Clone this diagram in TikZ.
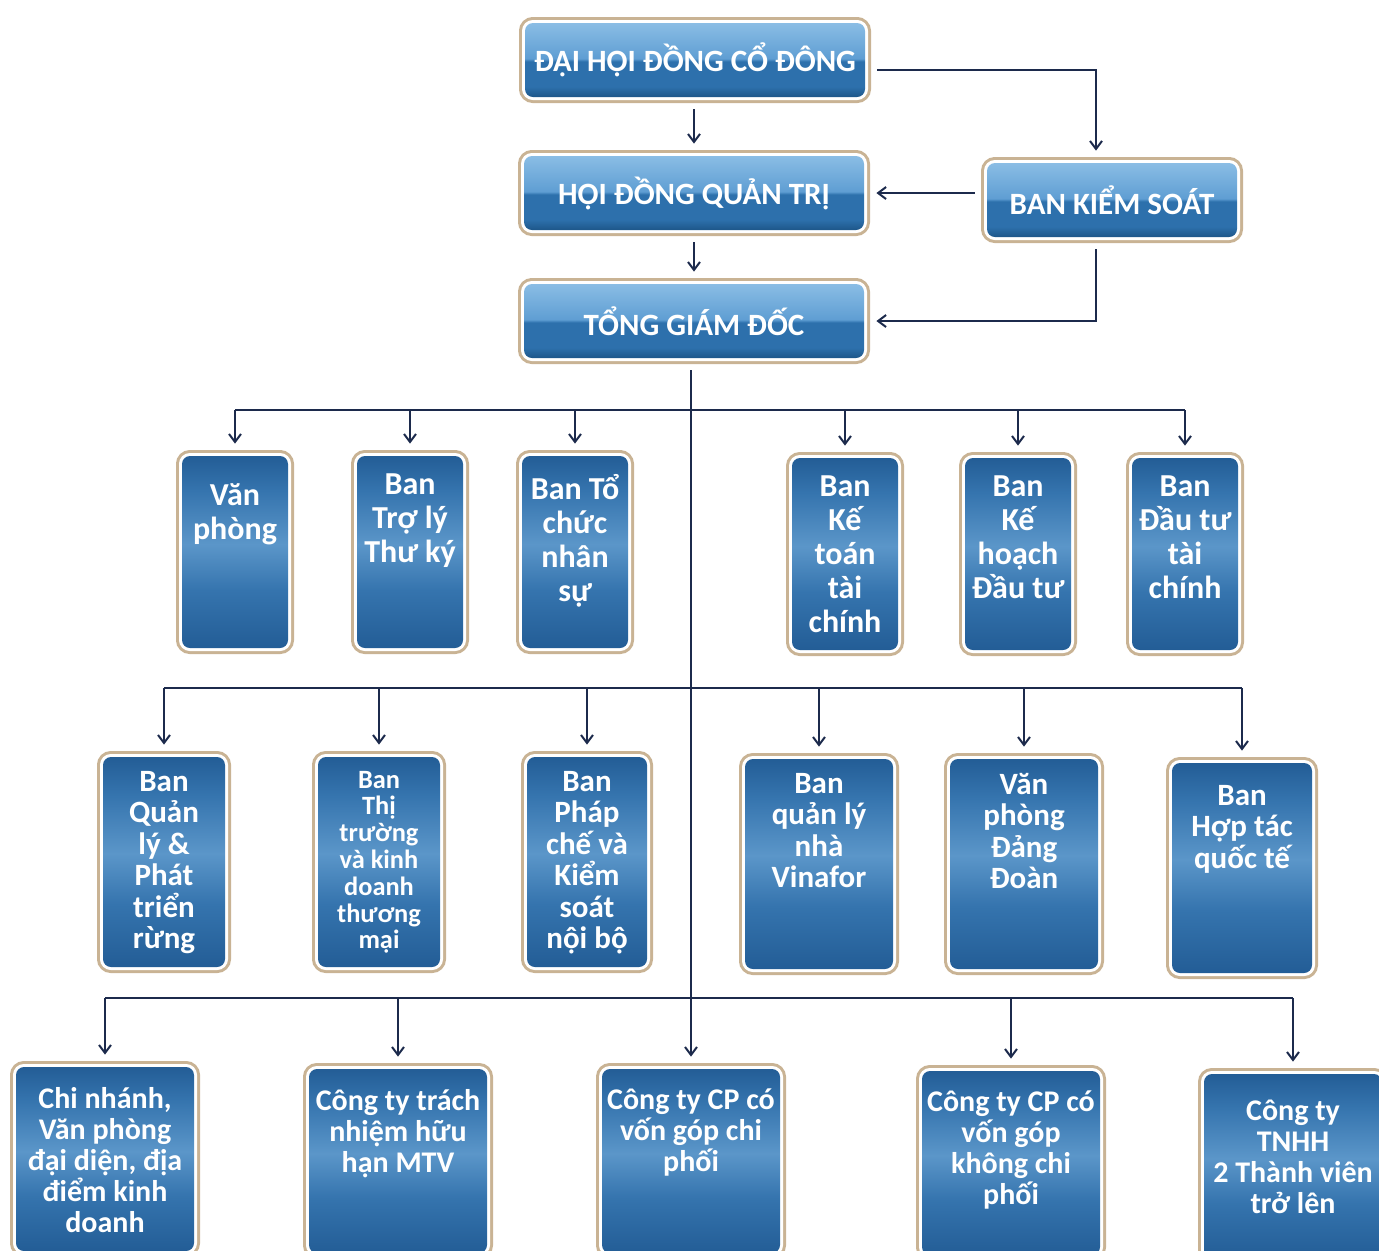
\documentclass[tikz,border=0pt]{standalone}
\usepackage{fontspec}
\setmainfont{Carlito}
\usetikzlibrary{arrows.meta}

\definecolor{hdark}{HTML}{1D5689}
\definecolor{hmid}{HTML}{2D70AC}
\definecolor{hlight}{HTML}{5F9ED3}
\definecolor{hlighter}{HTML}{8ABDE5}
\definecolor{pdark}{HTML}{235D96}
\definecolor{pmid}{HTML}{3574AE}
\definecolor{plight}{HTML}{5B96C9}
\definecolor{framecol}{HTML}{C9B394}
\definecolor{linecol}{HTML}{1C2A4C}

\pgfdeclareverticalshading{headshade}{100bp}{color(0bp)=(hdark); color(25bp)=(hdark); color(32bp)=(hmid); color(49bp)=(hmid); color(51bp)=(hlight); color(75bp)=(hlighter); color(100bp)=(hlighter)}
\pgfdeclareverticalshading{panelshade}{100bp}{color(0bp)=(pdark); color(25bp)=(pdark); color(40bp)=(pmid); color(52bp)=(plight); color(66bp)=(pmid); color(75bp)=(pdark); color(100bp)=(pdark)}

\tikzset{
  box/.style={shading=panelshade, shading angle=0, rounded corners=4pt, inner sep=0pt,
    preaction={draw=framecol, line width=6pt}, preaction={draw=white, line width=3pt}},
  head/.style={box, shading=headshade, minimum width=170pt, minimum height=37pt,
    text=white, font=\fontsize{15.5}{18}\selectfont\bfseries},
  rowa/.style={box, minimum width=53pt, minimum height=96pt},
  rowb/.style={box, minimum width=61pt, minimum height=105pt},
  rowc/.style={box, minimum width=89pt, minimum height=92pt},
  ptext/.style={anchor=north, yshift=-9pt, align=center, text=white, inner sep=0pt,
    font=\fontsize{16}{17}\selectfont\bfseries},
  ptextb/.style={ptext, yshift=2pt, font=\fontsize{15.5}{15.75}\selectfont\bfseries},
  ptextc/.style={ptext, yshift=-1pt, font=\fontsize{15}{15.5}\selectfont\bfseries},
  arr/.style={draw=linecol, line width=1pt, -{Straight Barb[length=4pt,width=6pt]},
    shorten <=6pt, shorten >=6pt},
  bus/.style={draw=linecol, line width=1pt}
}

\begin{document}
\begin{tikzpicture}[x=0.5pt, y=-0.5pt]
    \useasboundingbox (0,0) rectangle (1379,1250);

    % lãnh đạo
    \node[head] (dh) at (695,60) {ĐẠI HỘI ĐỒNG CỔ ĐÔNG};
    \node[head] (hd) at (694,193) {HỘI ĐỒNG QUẢN TRỊ};
    \node[head] (tg) at (694,321) {TỔNG GIÁM ĐỐC};
    \node[head, minimum width=125pt] (ks) at (1112,200) {BAN KIỂM SOÁT};

    \draw[arr] (hd.north |- dh.south) -- (hd.north);
    \draw[arr] (hd.south) -- (tg.north);
    \draw[arr] ([yshift=-5pt]dh.east) -| ([xshift=-8pt]ks.north);
    \draw[arr] (hd.east -| ks.west) -- (hd.east);
    \draw[arr] ([xshift=-8pt]ks.south) |- (tg.east);

    % hàng 1
    \node[rowa, label={[ptext, yshift=-5pt]north:{Văn\\phòng}}] (vp) at (235,552) {};
    \node[rowa, label={[ptext]north:{Ban\\Trợ lý\\Thư ký}}] (tl) at (410,552) {};
    \node[rowa, label={[ptext]north:{Ban Tổ\\chức\\nhân\\sự}}] (tc) at (575,552) {};
    \node[rowa, label={[ptext]north:{Ban\\Kế\\toán\\tài\\chính}}] (kt) at (845,554) {};
    \node[rowa, label={[ptext]north:{Ban\\Kế\\hoạch\\Đầu tư}}] (kh) at (1018,554) {};
    \node[rowa, label={[ptext]north:{Ban\\Đầu tư\\tài\\chính}}] (dt) at (1185,554) {};

    % hàng 2
    \node[rowb, label={[ptextb]north:{Ban\\Quản\\lý \&\\Phát\\triển\\rừng}}] (ql) at (164,862) {};
    \node[rowb, label={[ptextb, font=\fontsize{13.2}{13.4}\selectfont\bfseries]north:{Ban\\Thị\\trường\\và kinh\\doanh\\thương\\mại}}] (tt) at (379,862) {};
    \node[rowb, minimum width=60pt, label={[ptextb]north:{Ban\\Pháp\\chế và\\Kiểm\\soát\\nội bộ}}] (pc) at (587,862) {};
    \node[rowb, minimum width=74pt, label={[ptextb]north:{Ban\\quản lý\\nhà\\Vinafor}}] (vf) at (819,864) {};
    \node[rowb, minimum width=74pt, label={[ptextb]north:{Văn\\phòng\\Đảng\\Đoàn}}] (dd) at (1024,864) {};
    \node[rowb, minimum width=70pt, label={[ptextb, yshift=-4pt]north:{Ban\\Hợp tác\\quốc tế}}] (ht) at (1242,868) {};

    % hàng 3
    \node[rowc, label={[ptextc]north:{Chi nhánh,\\Văn phòng\\đại diện, địa\\điểm kinh\\doanh}}] (cn) at (105,1159) {};
    \node[rowc, label={[ptextc]north:{Công ty trách\\nhiệm hữu\\hạn MTV}}] (mtv) at (398,1161) {};
    \node[rowc, label={[ptextc]north:{Công ty CP có\\vốn góp chi\\phối}}] (cp) at (691,1161) {};
    \node[rowc, label={[ptextc]north:{Công ty CP có\\vốn góp\\không chi\\phối}}] (kcp) at (1011,1163) {};
    \node[rowc, label={[ptextc, yshift=-3pt]north:{Công ty\\TNHH\\2 Thành viên\\trở lên}}] (tn) at (1293,1166) {};

    % đường trục
    \coordinate (b1) at (690,410);
    \coordinate (b2) at (690,688);
    \coordinate (b3) at (690,998);
    \draw[arr] (tg.south -| cp.north) -- (cp.north);

    \draw[bus] (vp.north |- b1) -- (dt.north |- b1);
    \draw[arr, shorten <=0pt] (vp.north |- b1) -- (vp.north);
    \draw[arr, shorten <=0pt] (tl.north |- b1) -- (tl.north);
    \draw[arr, shorten <=0pt] (tc.north |- b1) -- (tc.north);
    \draw[arr, shorten <=0pt] (kt.north |- b1) -- (kt.north);
    \draw[arr, shorten <=0pt] (kh.north |- b1) -- (kh.north);
    \draw[arr, shorten <=0pt] (dt.north |- b1) -- (dt.north);

    \draw[bus] (ql.north |- b2) -- (ht.north |- b2);
    \draw[arr, shorten <=0pt] (ql.north |- b2) -- (ql.north);
    \draw[arr, shorten <=0pt] (tt.north |- b2) -- (tt.north);
    \draw[arr, shorten <=0pt] (pc.north |- b2) -- (pc.north);
    \draw[arr, shorten <=0pt] (vf.north |- b2) -- (vf.north);
    \draw[arr, shorten <=0pt] (dd.north |- b2) -- (dd.north);
    \draw[arr, shorten <=0pt] (ht.north |- b2) -- (ht.north);

    \draw[bus] (cn.north |- b3) -- (tn.north |- b3);
    \draw[arr, shorten <=0pt] (cn.north |- b3) -- (cn.north);
    \draw[arr, shorten <=0pt] (mtv.north |- b3) -- (mtv.north);
    \draw[arr, shorten <=0pt] (kcp.north |- b3) -- (kcp.north);
    \draw[arr, shorten <=0pt] (tn.north |- b3) -- (tn.north);

\end{tikzpicture}
\end{document}
